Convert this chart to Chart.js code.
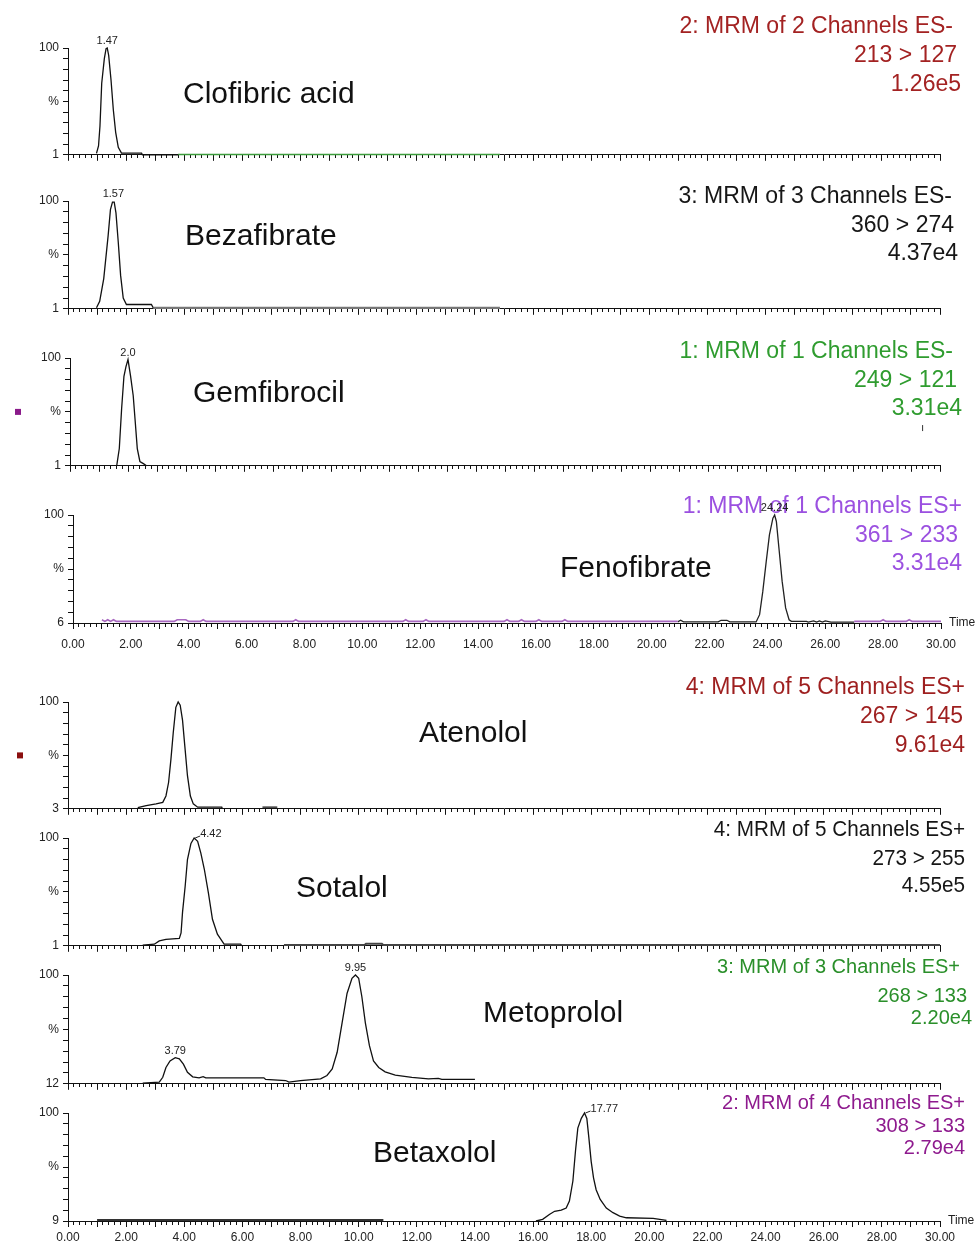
<!DOCTYPE html>
<html><head><meta charset="utf-8">
<script src="https://cdn.jsdelivr.net/npm/chart.js@4.4.0/dist/chart.umd.min.js"></script>
<style>
html,body{margin:0;padding:0;background:#fff;}
body{width:980px;height:1243px;position:relative;overflow:hidden;}
canvas{position:absolute;left:0;}
</style></head><body>
<script>
// ---------------- DATA (time in min, intensity in % of panel range) ----------------
const compoundNames = ['Clofibric acid','Bezafibrate','Gemfibrocil','Fenofibrate','Atenolol','Sotalol','Metoprolol','Betaxolol'];
const mrmText = [
  ['2: MRM of 2 Channels ES-','213 > 127','1.26e5'],
  ['3: MRM of 3 Channels ES-','360 > 274','4.37e4'],
  ['1: MRM of 1 Channels ES-','249 > 121','3.31e4'],
  ['1: MRM of 1 Channels ES+','361 > 233','3.31e4'],
  ['4: MRM of 5 Channels ES+','267 > 145','9.61e4'],
  ['4: MRM of 5 Channels ES+','273 > 255','4.55e5'],
  ['3: MRM of 3 Channels ES+','268 > 133','2.20e4'],
  ['2: MRM of 4 Channels ES+','308 > 133','2.79e4']
];
const yMinLabels = ['1','1','1','6','3','1','12','9'];
const xTickLabelTimes = [0,2,4,6,8,10,12,14,16,18,20,22,24,26,28,30];

const clofibricTime = [0.98,1.05,1.10,1.16,1.25,1.31,1.35,1.40,1.48,1.56,1.64,1.73,1.84,2.53,2.56,3.79];
const clofibricPct  = [1.3,8.3,26.9,67,90,99.4,100,93,70,42,21,7,1.6,1.6,0,0];
const clofibricCh2Time = [3.79,14.86];
const clofibricCh2Pct  = [0.3,0.3];

const bezafibrateTime = [0.98,1.09,1.23,1.38,1.46,1.53,1.59,1.65,1.73,1.81,1.90,2.01,2.87,2.93];
const bezafibratePct  = [1,7,28,67.6,92,99,99,89,61.5,31,10,4,4,1];
const bezafibrateCh2Time = [2.93,14.86];
const bezafibrateCh2Pct  = [0.9,0.9];

const gemfibrocilTime = [1.61,1.70,1.78,1.86,1.93,2.00,2.09,2.18,2.25,2.32,2.41,2.53,2.64];
const gemfibrocilPct  = [0,16,53,83,92,98.5,83,65,40.6,16,4,2,0];

const fenofibrateTime = [20.9,21.0,21.1,22.3,22.4,22.6,22.7,23.61,23.73,23.84,23.96,24.07,24.19,24.25,24.31,24.40,24.51,24.63,24.75,24.83,25.35,25.41,25.6,25.7,25.8,25.9,26.0,26.2,27.0];
const fenofibratePct  = [1,2.5,1,1,2.5,2.5,1,1,7.7,29,57,81.5,97,100,94,69,38.5,14,3,1.5,1.5,0.8,2,0.8,2,0.8,2,0.8,0.8];
const fenofibrateNoiseTime = [1.0,1.1,1.2,1.3,1.4,1.5,1.6,3.5,3.6,3.9,4.0,4.4,4.5,4.6,7.6,7.7,7.8,11.4,11.5,11.6,12.1,12.2,12.3,14.9,15.0,15.1,15.4,15.5,15.6,16.0,16.1,16.2,16.9,17.0,17.1,20.9,24.0,27.0,27.9,28.0,28.1,28.8,28.9,29.0,30.0];
const fenofibrateNoisePct  = [3,1.5,3,1.5,3,1.5,1.5,1.5,3,3,1.5,1.5,3,1.5,1.5,3,1.5,1.5,3,1.5,1.5,3,1.5,1.5,3,1.5,1.5,3,1.5,1.5,3,1.5,1.5,3,1.5,1.5,null,1.5,1.5,3,1.5,1.5,3,1.5,1.5];

const atenololTime = [2.40,2.69,3.03,3.26,3.37,3.46,3.54,3.62,3.71,3.79,3.86,3.94,4.02,4.11,4.21,4.31,4.46,5.29,5.31,6.0,6.69,7.2];
const atenololPct  = [1,3,4.6,6,12,24.6,46,71,95,100,97,83,58.5,31,12,4.6,1.5,1.5,0,null,1.5,1.5];

const sotalolTime = [2.57,2.97,3.14,3.37,3.83,3.89,3.94,4.03,4.11,4.23,4.34,4.46,4.57,4.69,4.83,4.97,5.14,5.37,5.94,5.98];
const sotalolPct  = [0.6,1.5,4.6,6,6.8,12,31,55,80,95,100,97,86,71,49,24.6,10.8,1.5,1.5,0];
const sotalolCh2Time = [7.43,10.2,10.25,10.8,10.85,30.0];
const sotalolCh2Pct  = [0.8,0.8,1.8,1.8,0.8,0.8];

const metoprololTime = [2.57,3.14,3.26,3.37,3.51,3.69,3.83,3.97,4.11,4.29,4.51,4.65,4.74,6.74,6.80,7.49,7.6,8.0,8.69,8.91,9.09,9.26,9.43,9.6,9.77,9.89,10.0,10.11,10.23,10.37,10.51,10.69,10.91,11.26,11.83,12.4,12.74,12.86,14.0];
const metoprololPct  = [0.6,1.5,6,15,21,24,23,18,10.6,6.4,5.5,6.6,5.5,5.5,4,3,1.5,3,4.5,7.6,13.6,29,56,83,97,100,97,80,56,35,21,15,11,8,6,4.5,5,4,4];

const betaxololTime = [16.10,16.33,16.56,16.74,16.97,17.14,17.25,17.37,17.46,17.54,17.66,17.77,17.85,17.92,18.0,18.08,18.17,18.31,18.52,18.75,18.98,19.21,20.13,20.59];
const betaxololPct  = [0,1.5,6,9,10,12,18.5,37,65,86,95,100,95,77,55,40,29,20,12,7.7,4.6,3,2.5,0.6];
const betaxololCh2Time = [1.0,10.85];
const betaxololCh2Pct  = [1,1];

// peak annotations: [time, %, label]
const peakLabels = [
  [[1.35,100,'1.47']],
  [[1.56,100,'1.57']],
  [[2.00,98.5,'2.0']],
  [[24.25,100,'24.24']],
  [],
  [[4.34,100,'4.42']],
  [[3.69,24,'3.79'],[9.89,100,'9.95']],
  [[17.77,100,'17.77']]
];

// ---------------- LAYOUT / STYLE ----------------
const FONT = '"Liberation Sans", Arial, Helvetica, sans-serif';
Chart.defaults.font.family = FONT;
const PAD_TOP = 42;
const panels = [
  {top:48,  base:156,  left:68, right:940, showX:false, labelPad:8, nameX:183, nameY:103, mrmColor:'#a32222', mrmSize:23, mrmH:1, mrmRight:[953,957,961], mrmY:[33,62,91],
   series:[[clofibricTime,clofibricPct,'#111',1.3],[clofibricCh2Time,clofibricCh2Pct,'#3c9c3c',1.5]], peakAlign:'center'},
  {top:201, base:310,  left:68, right:940, showX:false, labelPad:8, nameX:185, nameY:245, mrmColor:'#161616', mrmSize:23, mrmH:1, mrmRight:[952,954,958], mrmY:[203,232,260],
   series:[[bezafibrateTime,bezafibratePct,'#111',1.3],[bezafibrateCh2Time,bezafibrateCh2Pct,'#777',2.2]], peakAlign:'center'},
  {top:358, base:467,  left:70, right:940, showX:false, labelPad:8, nameX:193, nameY:402, mrmColor:'#2f9c2f', mrmSize:23, mrmH:1, mrmRight:[953,957,962], mrmY:[358,387,415],
   series:[[gemfibrocilTime,gemfibrocilPct,'#111',1.3]], peakAlign:'center', marker:'#8a1a8a', smallTick:[29.4,35]},
  {top:515, base:623,  left:73, right:941, showX:true, labelPad:8, nameX:560, nameY:577, mrmColor:'#9b50e0', mrmSize:23, mrmH:1, mrmRight:[962,958,962], mrmY:[513,542,570],
   series:[[fenofibrateNoiseTime,fenofibrateNoisePct,'#a868c0',1.6],[fenofibrateTime,fenofibratePct,'#222',1.3]], peakAlign:'center', time:true},
  {top:702, base:810,  left:68, right:940, showX:false, labelPad:8, nameX:419, nameY:742, mrmColor:'#9e1f1f', mrmSize:23, mrmH:1, mrmRight:[965,963,965], mrmY:[694,723,752],
   series:[[atenololTime,atenololPct,'#111',1.3]], peakAlign:'center', marker:'#8b0f0f'},
  {top:838, base:947,  left:68, right:940, showX:false, labelPad:8, nameX:296, nameY:897, mrmColor:'#161616', mrmSize:22, mrmH:0.94, mrmRight:[965,965,965], mrmY:[836,865,892],
   series:[[sotalolCh2Time,sotalolCh2Pct,'#444',2],[sotalolTime,sotalolPct,'#111',1.3]], peakAlign:'right'},
  {top:975, base:1085, left:68, right:940, showX:false, labelPad:8, nameX:483, nameY:1022, mrmColor:'#2a8f2a', mrmSize:20, mrmH:1, mrmRight:[960,967,972], mrmY:[973,1002,1024],
   series:[[metoprololTime,metoprololPct,'#111',1.3]], peakAlign:'center'},
  {top:1113,base:1221, left:68, right:940, showX:true, labelPad:3, nameX:373, nameY:1162, mrmColor:'#8e1a8e', mrmSize:20, mrmH:1, mrmRight:[965,965,965], mrmY:[1109,1132,1154],
   series:[[betaxololCh2Time,betaxololCh2Pct,'#333',2],[betaxololTime,betaxololPct,'#111',1.3]], peakAlign:'right', time:true}
];

function toPoints(t, y){ return t.map((v,k)=>({x:v, y:y[k]})); }
function isMult(v, m){ return Math.abs(v/m - Math.round(v/m)) < 1e-6; }

panels.forEach((P, i) => {
  const xh = P.showX ? 30 : 10;
  const cTop = P.top - PAD_TOP;
  const cH = PAD_TOP + (P.base - P.top) + xh;
  const cv = document.createElement('canvas');
  cv.width = 980; cv.height = cH;
  cv.style.top = cTop + 'px'; cv.style.width = '980px'; cv.style.height = cH + 'px';
  document.body.appendChild(cv);

  const overlay = {
    id: 'overlay' + i,
    afterDraw(chart){
      const ctx = chart.ctx, xs = chart.scales.x, ys = chart.scales.y;
      ctx.save();
      // compound name
      ctx.fillStyle = '#111'; ctx.textAlign = 'left'; ctx.textBaseline = 'alphabetic';
      ctx.font = '30px ' + FONT;
      ctx.fillText(compoundNames[i], P.nameX, P.nameY - cTop);
      // MRM block
      ctx.fillStyle = P.mrmColor; ctx.font = P.mrmSize + 'px ' + FONT; ctx.textAlign = 'right';
      mrmText[i].forEach((s, k) => {
        ctx.save();
        ctx.translate(P.mrmRight[k], P.mrmY[k] - cTop);
        ctx.scale(P.mrmH, 1);
        ctx.fillText(s, 0, 0);
        ctx.restore();
      });
      // peak labels
      ctx.fillStyle = '#222'; ctx.font = '11px ' + FONT;
      peakLabels[i].forEach(([t, v, s]) => {
        const px = xs.getPixelForValue(t), py = ys.getPixelForValue(v);
        if (P.peakAlign === 'right') {
          ctx.textAlign = 'left'; ctx.textBaseline = 'middle';
          ctx.strokeStyle = '#222'; ctx.lineWidth = 1;
          ctx.beginPath(); ctx.moveTo(px + 1, py); ctx.lineTo(px + 6, py - 2); ctx.stroke();
          ctx.fillText(s, px + 6, py - 4);
        } else {
          ctx.textAlign = 'center'; ctx.textBaseline = 'alphabetic';
          ctx.fillText(s, px, py - 4);
        }
      });
      // "Time" caption
      if (P.time) {
        ctx.fillStyle = '#222'; ctx.font = '12px ' + FONT; ctx.textAlign = 'left'; ctx.textBaseline = 'middle';
        ctx.fillText('Time', chart.chartArea.right + 8, chart.chartArea.bottom);
      }
      // trace-colour marker at left
      if (P.marker) {
        const my = ys.getPixelForValue(50);
        ctx.fillStyle = P.marker;
        ctx.fillRect(chart.chartArea.left - 55 + (i === 4 ? 4 : 0), my - 3, 6, 6);
      }
      if (P.smallTick) {
        const sx = xs.getPixelForValue(P.smallTick[0]), sy = ys.getPixelForValue(P.smallTick[1]);
        ctx.strokeStyle = '#333'; ctx.lineWidth = 1;
        ctx.beginPath(); ctx.moveTo(sx, sy - 3); ctx.lineTo(sx, sy + 3); ctx.stroke();
      }
      ctx.restore();
    }
  };

  new Chart(cv, {
    type: 'line',
    data: {
      datasets: P.series.map(([t, y, col, w]) => ({
        data: toPoints(t, y), borderColor: col, borderWidth: w, pointRadius: 0,
        tension: 0, fill: false, clip: false, spanGaps: false
      }))
    },
    options: {
      responsive: false, animation: false, events: [],
      layout: { padding: { top: PAD_TOP, left: 0, right: 980 - P.right, bottom: 0 } },
      plugins: { legend: { display: false }, tooltip: { enabled: false } },
      scales: {
        x: {
          type: 'linear', min: 0, max: 30,
          ticks: {
            stepSize: 0.2, autoSkip: false, maxRotation: 0, minRotation: 0,
            padding: P.labelPad, color: '#222', font: { size: 12 },
            callback: (v) => (P.showX && xTickLabelTimes.some(m => Math.abs(m - v) < 1e-6)) ? Number(v).toFixed(2) : ''
          },
          grid: {
            drawOnChartArea: false, drawTicks: true, tickLength: 6,
            color: '#111', tickColor: '#111', tickWidth: 1,
            tickBorderDash: (c) => (c.tick && isMult(c.tick.value, 1)) ? [] : [3, 50]
          },
          border: { display: true, color: '#111', width: 1 },
          afterFit: (s) => { s.height = xh; }
        },
        y: {
          min: 0, max: 100,
          ticks: {
            stepSize: 10, autoSkip: false, padding: 4, color: '#222', font: { size: 12 },
            callback: (v) => v === 100 ? '100' : (v === 50 ? '%' : (v === 0 ? yMinLabels[i] : ''))
          },
          grid: { drawOnChartArea: false, drawTicks: true, tickLength: 5, color: '#111', tickColor: '#111' },
          border: { display: true, color: '#111', width: 1 },
          afterFit: (s) => { s.width = P.left; }
        }
      }
    },
    plugins: [overlay]
  });
});
</script>
</body></html>
